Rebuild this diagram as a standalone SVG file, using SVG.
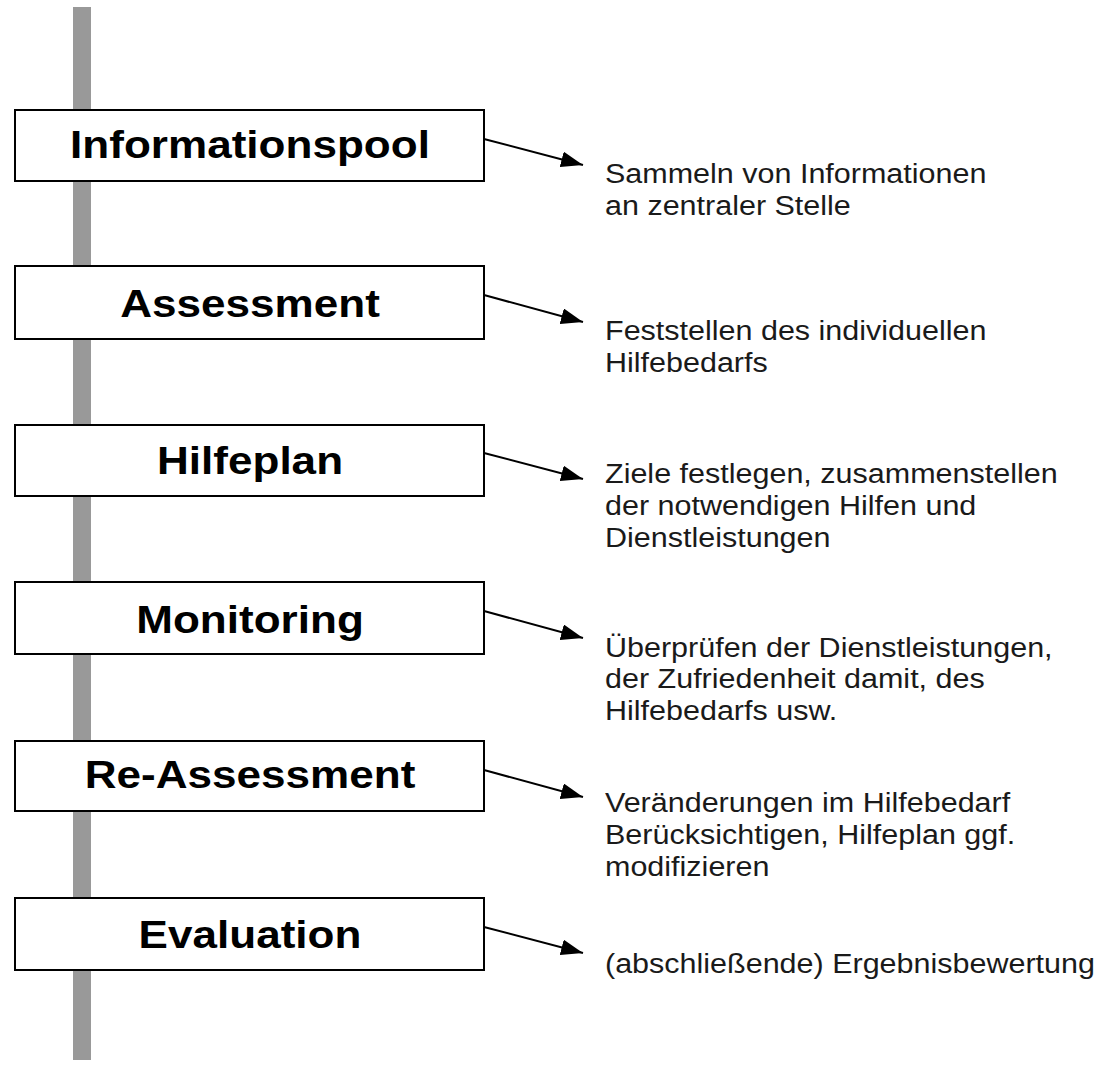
<svg xmlns="http://www.w3.org/2000/svg" width="1103" height="1065" viewBox="0 0 1103 1065">
<style>
.box{fill:#fff;stroke:#000;stroke-width:2}
.title{font-family:"Liberation Sans",Arial,sans-serif;font-weight:bold;font-size:39px;fill:#000;text-anchor:middle}
.desc{font-family:"Liberation Sans",Arial,sans-serif;font-size:28px;fill:#1a1a1a}
.conn{stroke:#000;stroke-width:2;fill:none;marker-end:url(#ah)}
</style>
<defs>
<marker id="ah" viewBox="0 0 22 16" refX="22" refY="8" markerWidth="22" markerHeight="16" markerUnits="userSpaceOnUse" orient="auto">
<path d="M0,0 L22,8 L0,16 z" fill="#000"/>
</marker>
</defs>
<rect id="timeline" x="73" y="7" width="18" height="1053" fill="#999"/>
<g id="connectors">
<line class="conn" x1="484" y1="139" x2="583" y2="165"/>
<line class="conn" x1="484" y1="295" x2="583" y2="322"/>
<line class="conn" x1="484" y1="453" x2="583" y2="479"/>
<line class="conn" x1="484" y1="611" x2="583" y2="638"/>
<line class="conn" x1="484" y1="770" x2="583" y2="797"/>
<line class="conn" x1="484" y1="927" x2="583" y2="953"/>
</g>
<g id="n1">
<rect class="box" x="15" y="110" width="469" height="71"/>
<text class="title" transform="translate(250,158) scale(1.13,1)">Informationspool</text>
</g>
<g id="n2">
<rect class="box" x="15" y="266" width="469" height="73"/>
<text class="title" transform="translate(250,317) scale(1.13,1)">Assessment</text>
</g>
<g id="n3">
<rect class="box" x="15" y="425" width="469" height="71"/>
<text class="title" transform="translate(250,474) scale(1.13,1)">Hilfeplan</text>
</g>
<g id="n4">
<rect class="box" x="15" y="582" width="469" height="72"/>
<text class="title" transform="translate(250,633) scale(1.13,1)">Monitoring</text>
</g>
<g id="n5">
<rect class="box" x="15" y="741" width="469" height="70"/>
<text class="title" transform="translate(250,788) scale(1.13,1)">Re-Assessment</text>
</g>
<g id="n6">
<rect class="box" x="15" y="898" width="469" height="72"/>
<text class="title" transform="translate(250,948) scale(1.13,1)">Evaluation</text>
</g>
<g id="d1">
<text class="desc" transform="translate(605,183) scale(1.09,1)"><tspan x="0" y="0">Sammeln von Informationen</tspan><tspan x="0" y="32">an zentraler Stelle</tspan></text>
</g>
<g id="d2">
<text class="desc" transform="translate(605,340) scale(1.09,1)"><tspan x="0" y="0">Feststellen des individuellen</tspan><tspan x="0" y="32">Hilfebedarfs</tspan></text>
</g>
<g id="d3">
<text class="desc" transform="translate(605,483) scale(1.09,1)"><tspan x="0" y="0">Ziele festlegen, zusammenstellen</tspan><tspan x="0" y="32">der notwendigen Hilfen und</tspan><tspan x="0" y="64">Dienstleistungen</tspan></text>
</g>
<g id="d4">
<text class="desc" transform="translate(605,657) scale(1.09,1)"><tspan x="0" y="0">Überprüfen der Dienstleistungen,</tspan><tspan x="0" y="31.5">der Zufriedenheit damit, des</tspan><tspan x="0" y="63">Hilfebedarfs usw.</tspan></text>
</g>
<g id="d5">
<text class="desc" transform="translate(605,812) scale(1.09,1)"><tspan x="0" y="0">Veränderungen im Hilfebedarf</tspan><tspan x="0" y="32">Berücksichtigen, Hilfeplan ggf.</tspan><tspan x="0" y="64">modifizieren</tspan></text>
</g>
<g id="d6">
<text class="desc" transform="translate(605,973) scale(1.09,1)">(abschließende) Ergebnisbewertung</text>
</g>
</svg>
